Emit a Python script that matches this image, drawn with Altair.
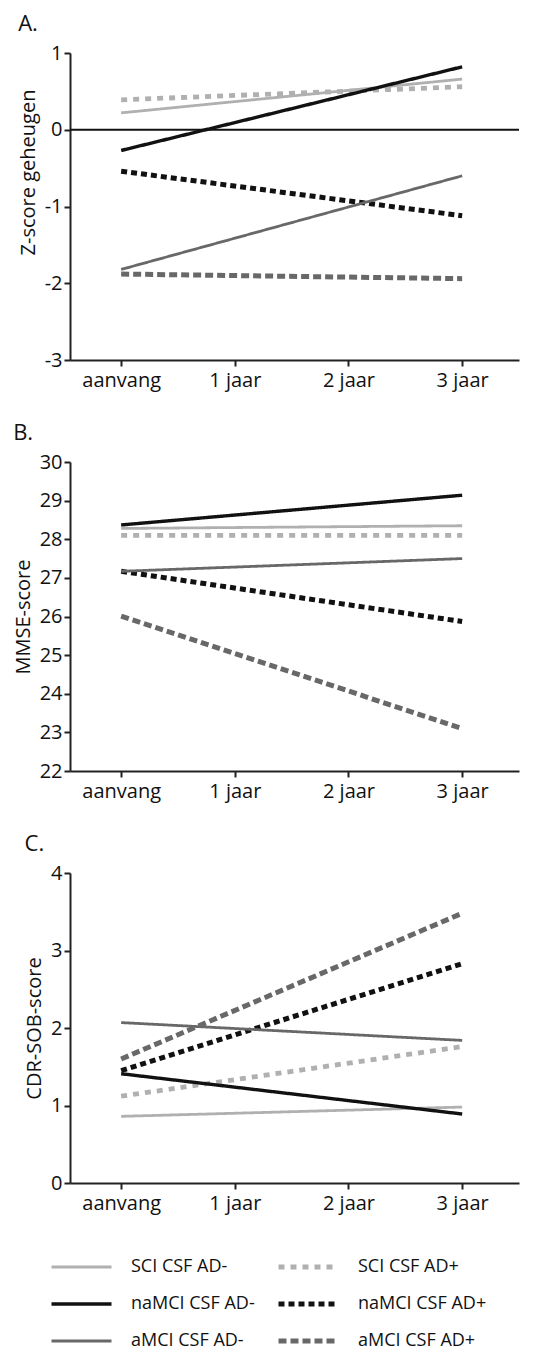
import altair as alt
import pandas as pd

FONT = "Open Sans"

TIMES = [0, 3]
TICK_VALUES = [0, 1, 2, 3]
TICK_LABELS = ["aanvang", "1 jaar", "2 jaar", "3 jaar"]

SERIES = ["SCI CSF AD-", "SCI CSF AD+", "naMCI CSF AD-", "naMCI CSF AD+", "aMCI CSF AD-", "aMCI CSF AD+"]
COLORS = ["#b0b0b0", "#b0b0b0", "#111111", "#111111", "#686868", "#686868"]
DASHES = [[1, 0], [6, 6], [1, 0], [6, 4], [1, 0], [8, 4]]
WIDTHS = [2.8, 4.8, 3.4, 5.0, 2.8, 5.0]

# Panel A: Z-score geheugen (start = aanvang, end = 3 jaar)
A_START = [0.22, 0.39, -0.27, -0.54, -1.82, -1.88]
A_END = [0.66, 0.56, 0.82, -1.12, -0.60, -1.94]

# Panel B: MMSE-score
B_START = [28.28, 28.10, 28.37, 27.17, 27.17, 26.01]
B_END = [28.35, 28.10, 29.14, 25.87, 27.50, 23.10]

# Panel C: CDR-SOB-score
C_START = [0.86, 1.12, 1.41, 1.45, 2.07, 1.60]
C_END = [0.98, 1.76, 0.89, 2.83, 1.84, 3.48]

LABEL_EXPR = "[" + ",".join("'" + s + "'" for s in TICK_LABELS) + "][datum.value]"


def make_df(start, end):
    rows = []
    for s, a, b in zip(SERIES, start, end):
        rows.append({"series": s, "t": TIMES[0], "v": a})
        rows.append({"series": s, "t": TIMES[1], "v": b})
    return pd.DataFrame(rows)


LEGEND = alt.Legend(
    title=None,
    orient="none",
    legendX=-21,
    legendY=1204,
    direction="horizontal",
    columns=2,
    symbolType="stroke",
    symbolSize=3600,
    symbolStrokeWidth=4,
    clipHeight=20,
    rowPadding=17,
    columnPadding=21,
    labelFont=FONT,
    labelFontSize=18,
    labelColor="#111111",
    labelOffset=17,
    labelLimit=300,
)


def panel(df, letter, ytitle, ydomain, height, zero_line=False, title_y=None):
    yticks = list(range(int(ydomain[0]), int(ydomain[1]) + 1))
    x = alt.X(
        "t:Q",
        scale=alt.Scale(domain=[-0.45, 3.5], nice=False, zero=False),
        axis=alt.Axis(values=TICK_VALUES, labelExpr=LABEL_EXPR, title=None,
                      labelPadding=4, tickSize=6),
    )
    yaxis_kw = dict(values=yticks, title=ytitle, labelExpr="'' + datum.value",
                    tickSize=6, titlePadding=6)
    if title_y is not None:
        yaxis_kw["titleY"] = title_y
        yaxis_kw["titleAlign"] = "center"
    y = alt.Y(
        "v:Q",
        scale=alt.Scale(domain=ydomain, nice=False, zero=False),
        axis=alt.Axis(**yaxis_kw),
    )
    lines = alt.Chart(df).mark_line(strokeCap="butt").encode(
        x=x,
        y=y,
        color=alt.Color("series:N", scale=alt.Scale(domain=SERIES, range=COLORS), legend=LEGEND),
        strokeDash=alt.StrokeDash("series:N", scale=alt.Scale(domain=SERIES, range=DASHES), legend=LEGEND),
        strokeWidth=alt.StrokeWidth("series:N", scale=alt.Scale(type="ordinal", domain=SERIES, range=WIDTHS), legend=None),
        order=alt.Order("series:N"),
    )
    layers = []
    if zero_line:
        zero = alt.Chart(pd.DataFrame({"v": [0]})).mark_rule(color="#111111", strokeWidth=2).encode(y="v:Q")
        layers.append(zero)
    layers.append(lines)
    return alt.layer(*layers).properties(
        width=449,
        height=height,
        title=alt.TitleParams(letter, anchor="start", frame="bounds", fontSize=22,
                              fontWeight="normal", font=FONT, offset=7, color="#111111"),
    )


pA = panel(make_df(A_START, A_END), "A.", "Z-score geheugen", [-3, 1], 307, zero_line=True, title_y=119)
pB = panel(make_df(B_START, B_END), "B.", "MMSE-score", [22, 30], 309)
pC = panel(make_df(C_START, C_END), "C.", "CDR-SOB-score", [0, 4], 310)

chart = alt.vconcat(pA, pB, pC, spacing=32).configure_view(
    stroke=None
).configure_axis(
    grid=False,
    domainColor="#222222",
    domainWidth=2,
    tickColor="#222222",
    tickWidth=2,
    labelFont=FONT,
    labelFontSize=20,
    labelColor="#111111",
    titleFont=FONT,
    titleFontSize=20,
    titleFontWeight="normal",
    titleColor="#111111",
).properties(
    padding={"left": 5, "top": 5, "right": 5, "bottom": 0}
)

chart.save("out.html", embed_options={"renderer": "svg", "actions": False})
